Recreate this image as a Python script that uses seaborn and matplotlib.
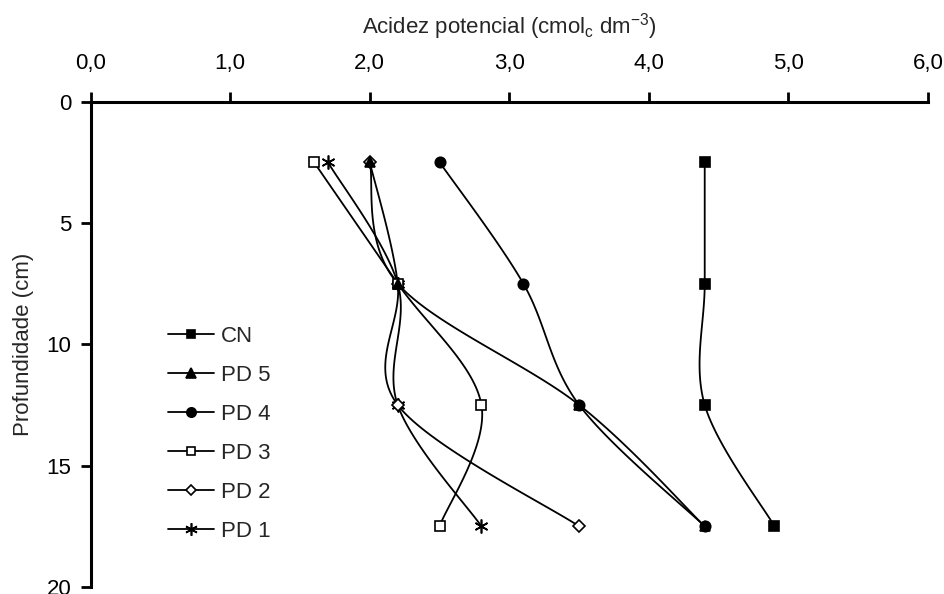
import numpy as np
import pandas as pd
import matplotlib
matplotlib.use("Agg")
import matplotlib.pyplot as plt
import seaborn as sns
from matplotlib.lines import Line2D

# depth of each sampled layer (cm) and potential acidity per treatment
depth = [2.5, 7.5, 12.5, 17.5]
cn = [4.4, 4.4, 4.4, 4.9]
pd5 = [2.0, 2.2, 3.5, 4.4]
pd4 = [2.5, 3.1, 3.5, 4.4]
pd3 = [1.6, 2.2, 2.8, 2.5]
pd2 = [2.0, 2.2, 2.2, 3.5]
pd1 = [1.7, 2.2, 2.2, 2.8]

series_names = ["CN", "PD 5", "PD 4", "PD 3", "PD 2", "PD 1"]
series_values = [cn, pd5, pd4, pd3, pd2, pd1]
x_ticks = [0, 1, 2, 3, 4, 5, 6]
x_tick_labels = ["0,0", "1,0", "2,0", "3,0", "4,0", "5,0", "6,0"]
y_ticks = [0, 5, 10, 15, 20]

# marker style per series: (marker, size, face colour)
marker_styles = {
    "CN": ("s", 7, "black"),
    "PD 5": ("^", 7.5, "black"),
    "PD 4": ("o", 7.5, "black"),
    "PD 3": ("s", 6.5, "white"),
    "PD 2": ("D", 6, "white"),
    "PD 1": ((6, 2, 0), 10, "black"),
}


def smooth_curve(ax, xs, ys, n=40):
    """Excel-like smoothed line: cubic Bezier through the points, built in pixel space."""
    pts = ax.transData.transform(np.column_stack([xs, ys]))
    p = np.vstack([pts[0], pts, pts[-1]])
    t = np.linspace(0, 1, n)[:, None]
    parts = []
    for i in range(1, len(p) - 2):
        p0, p1, p2, p3 = p[i - 1], p[i], p[i + 1], p[i + 2]
        c1 = p1 + (p2 - p0) / 6
        c2 = p2 - (p3 - p1) / 6
        seg = (1 - t) ** 3 * p1 + 3 * (1 - t) ** 2 * t * c1 + 3 * (1 - t) * t ** 2 * c2 + t ** 3 * p2
        parts.append(seg if i == 1 else seg[1:])
    curve = ax.transData.inverted().transform(np.vstack(parts))
    return curve[:, 0], curve[:, 1]


sns.set_style("ticks")
plt.rcParams["font.family"] = ["Liberation Sans", "DejaVu Sans"]
plt.rcParams["mathtext.fontset"] = "custom"
plt.rcParams["mathtext.rm"] = "Liberation Sans"

fig = plt.figure(figsize=(9.45, 5.94), dpi=100)
ax = fig.add_axes([90.7 / 945, 1 - 587 / 594, 837.3 / 945, 485.5 / 594])
ax.set_xlim(0, 6)
ax.set_ylim(20, 0)

# curves first, then markers (last series underneath so PD 5 covers PD 2 at the top)
for name, vals in zip(series_names, series_values):
    sx, sy = smooth_curve(ax, vals, depth)
    curve_df = pd.DataFrame({"x": sx, "y": sy})
    sns.lineplot(data=curve_df, x="x", y="y", sort=False, estimator=None,
                 color="black", linewidth=1.3, ax=ax, zorder=2)

handles = []
for i, (name, vals) in enumerate(zip(series_names, series_values)):
    mk, ms, fc = marker_styles[name]
    ax.plot(vals, depth, linestyle="none", marker=mk, markersize=ms,
            markerfacecolor=fc, markeredgecolor="black", markeredgewidth=1.2,
            zorder=10 - i, clip_on=False)
    handles.append(Line2D([], [], color="black", linewidth=1.3, marker=mk,
                          markersize=ms * 0.9, markerfacecolor=fc,
                          markeredgecolor="black", markeredgewidth=1.2))

ax.xaxis.tick_top()
ax.xaxis.set_label_position("top")
ax.set_xticks(x_ticks)
ax.set_xticklabels(x_tick_labels)
ax.set_yticks(y_ticks)
ax.set_xlabel(r"Acidez potencial (cmol$_\mathregular{c}$ dm$^\mathregular{-3}$)",
              fontsize=16, labelpad=14)
ax.set_ylabel("Profundidade (cm)", fontsize=16, labelpad=9)
ax.set_ylim(20, 0)

for side in ["right", "bottom"]:
    ax.spines[side].set_visible(False)
for side in ["top", "left"]:
    ax.spines[side].set_linewidth(2.2)
    ax.spines[side].set_color("black")

ax.tick_params(axis="x", which="both", direction="out", length=7, width=2,
               pad=13, labelsize=16, colors="black")
ax.tick_params(axis="y", which="both", direction="out", length=7, width=2,
               pad=7, labelsize=16, colors="black")

ax.legend(handles, series_names, loc="upper left", bbox_to_anchor=(0.092, 0.538),
          frameon=False, fontsize=16, borderaxespad=0, borderpad=0,
          handlelength=2.1, handletextpad=0.3, labelspacing=0.81)

fig.savefig("out.png", dpi=100)
